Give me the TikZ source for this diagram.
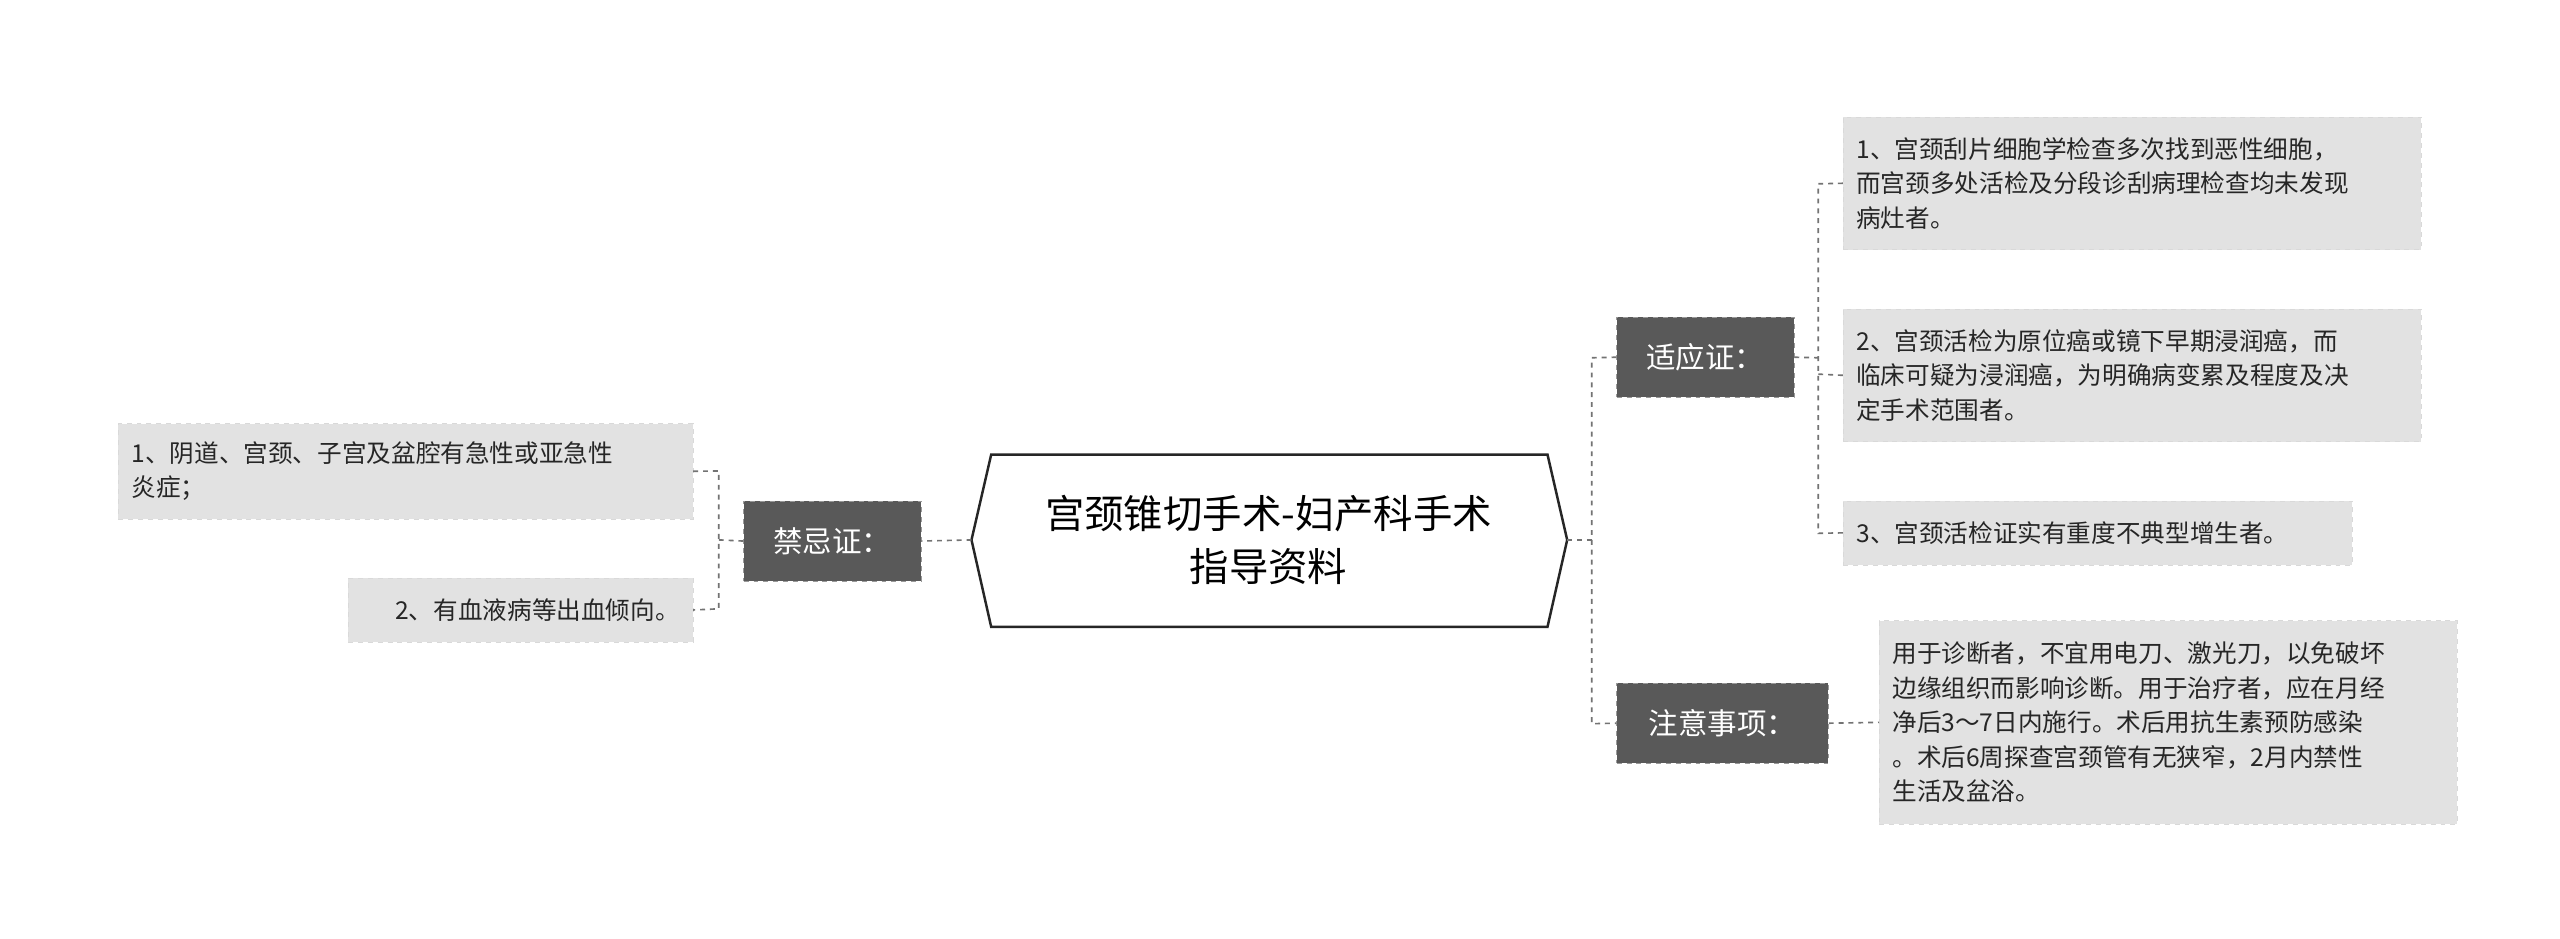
\documentclass[tikz,border=0pt]{standalone}
\usepackage{fontspec}
\setmainfont{Noto Sans CJK SC}
\begin{document}
\begin{tikzpicture}[x=1pt,y=-1pt,
  leaf/.style={anchor=north west,fill=leafgray,draw=white!85!black,dashed,inner xsep=8pt,inner ysep=6pt,align=left,font=\fontsize{15}{21}\selectfont,text=black!85},
  branch/.style={anchor=north west,fill=darkgray,draw=black!40,dashed,text=white,font=\fontsize{18}{22}\selectfont,inner xsep=10pt,minimum height=49pt},
  conn/.style={draw=black!55,dashed,line width=1pt}]
\definecolor{leafgray}{HTML}{E2E2E2}
\definecolor{darkgray}{HTML}{595959}
\useasboundingbox (0,0) rectangle (1560,572);
\fill[white] (0,0) rectangle (1560,572);
% central
\node[font=\fontsize{24}{32}\selectfont,align=center] (c) at (773,329) {宫颈锥切手术-妇产科手术\\指导资料};
\coordinate (cl) at (592,329); \coordinate (cr) at (955,329);
\draw[line width=1.5pt,black!85] (cl) -- (604,277) -- (943,277) -- (cr) -- (943,382) -- (604,382) -- cycle;
% branches
\node[branch,minimum width=108pt] (jj) at (453,305) {禁忌证：};
\node[branch,minimum width=108pt] (sy) at (985,193) {适应证：};
\node[branch,minimum width=129pt] (zy) at (985,416) {注意事项：};
% leaves
\node[leaf,text width=334pt,minimum height=58pt] (l1) at (72,258) {1、阴道、宫颈、子宫及盆腔有急性或亚急性\\炎症；};
\node[leaf,text width=194pt,minimum height=39pt,align=right] (l2) at (212,352) {2、有血液病等出血倾向。};
\node[leaf,text width=336pt,minimum height=81pt] (r1) at (1123,71) {1、宫颈刮片细胞学检查多次找到恶性细胞，\\而宫颈多处活检及分段诊刮病理检查均未发现\\病灶者。};
\node[leaf,text width=336pt,minimum height=81pt] (r2) at (1123,188) {2、宫颈活检为原位癌或镜下早期浸润癌，而\\临床可疑为浸润癌，为明确病变累及程度及决\\定手术范围者。};
\node[leaf,text width=294pt,minimum height=39pt] (r3) at (1123,305) {3、宫颈活检证实有重度不典型增生者。};
\node[leaf,text width=336pt,minimum height=124pt] (r4) at (1145,378) {用于诊断者，不宜用电刀、激光刀，以免破坏\\边缘组织而影响诊断。用于治疗者，应在月经\\净后3～7日内施行。术后用抗生素预防感染\\。术后6周探查宫颈管有无狭窄，2月内禁性\\生活及盆浴。};
% connectors
\draw[conn] (cl) -- (jj.east);
\draw[conn] (jj.west) -- (438,329);
\draw[conn] (l1.east) -- (438,287) -- (438,371) -- (l2.east);
\draw[conn] (cr) -- (970,329);
\draw[conn] (sy.west) -- (970,218) -- (970,441) -- (zy.west);
\draw[conn] (sy.east) -- (1108,218);
\draw[conn] (r1.west) -- (1108,112) -- (1108,325) -- (r3.west);
\draw[conn] (1108,228) -- (r2.west);
\draw[conn] (zy.east) -- (r4.west);
\end{tikzpicture}
\end{document}
